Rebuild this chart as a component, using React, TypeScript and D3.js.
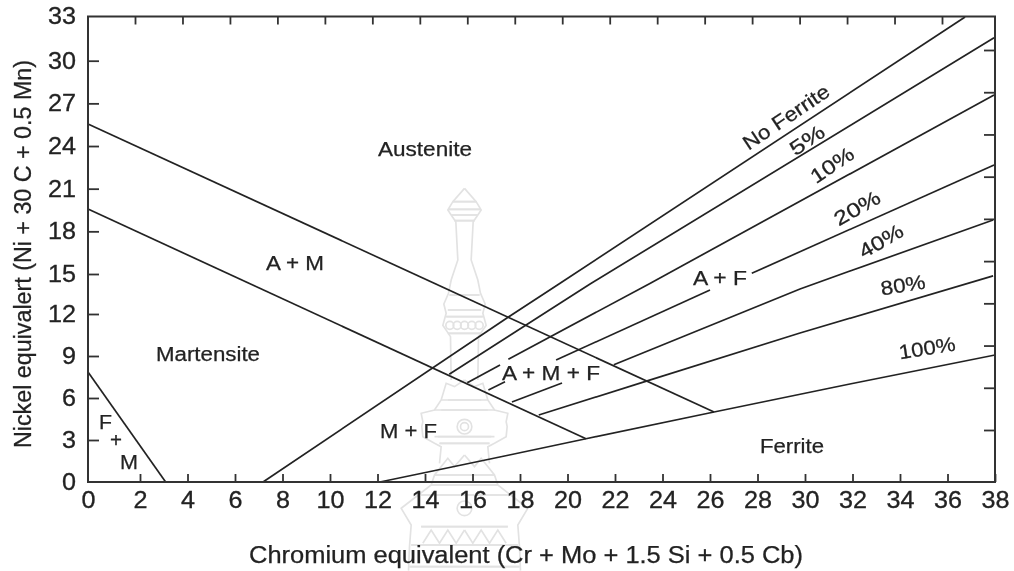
import { useEffect, useRef } from 'react';
import * as d3 from 'd3';

const width = 1014;
const height = 571;

// Schaeffler diagram, values as [Cr eq, Ni eq]
const xTicks = d3.range(0, 40, 2);
const yTicks = d3.range(0, 36, 3);
const frameTicksX = d3.range(2, 38, 2);
const frameTicksY = d3.range(3, 33, 3);

const austeniteEdge = [[0, 25.55], [26.17, 5.0]];
const martensiteEdge = [[0, 19.57], [20.78, 3.09]];
const fmEdge = [[0, 7.86], [3.08, 0]];
const noFerrite = [[7.18, 0], [17.45, 11.71], [19.64, 14.25], [36.74, 32.97]];
const ferrite5 = [[15.02, 7.69], [20.95, 14.25], [37.96, 31.56]];
const ferrite10a = [[15.78, 7.09], [17.16, 8.36]];
const ferrite10b = [[17.51, 8.76], [23.47, 14.29], [37.96, 27.59]];
const ferrite20a = [[16.67, 6.57], [17.37, 7.16]];
const ferrite20b = [[19.52, 8.71], [26, 13.8]];
const ferrite20c = [[27.76, 15.05], [37.96, 22.67]];
const ferrite40a = [[17.66, 5.71], [19.77, 7.07]];
const ferrite40b = [[21.95, 8.38], [29.79, 13.88], [37.92, 18.8]];
const ferrite80 = [[18.79, 4.79], [23.39, 7.24], [29.79, 10.64], [37.92, 14.86]];
const ferrite100 = [[12.1, 0], [13.92, 0.64], [17.45, 1.89], [20.78, 3.09], [26.17, 5.0], [31.89, 7.0], [38, 9.07]];

const allLines = [
  austeniteEdge, martensiteEdge, fmEdge, noFerrite, ferrite5, ferrite10a, ferrite10b,
  ferrite20a, ferrite20b, ferrite20c, ferrite40a, ferrite40b, ferrite80, ferrite100,
];

const regionNames = ['Austenite', 'A + M', 'Martensite', 'F', '+', 'M', 'M + F', 'A + M + F', 'A + F', 'Ferrite'];
const curveNames = ['No Ferrite', '5%', '10%', '20%', '40%', '80%', '100%'];

// [left, baseline, text width]
const regionPlaces = [
  [378, 156, 94], [266, 270, 58], [156, 361, 104], [99, 429, 13], [110, 447, 12],
  [120, 469, 18], [380, 438, 57], [502, 380, 98], [693, 285, 54], [760, 453, 64],
];
// [centre x, centre y, angle, text width]
const curvePlaces = [
  [786, 117, -34, 100], [807, 140, -34, 38], [832, 165, -34, 48], [857, 208, -30, 50],
  [881, 241, -30, 48], [903, 285, -9, 45], [927, 348, -9, 57],
];

// faint stamp behind the chart, right half only, mirrored when drawn
const stampPaths = [
  'M0 25L35 65L50 90L38 108L26 125L20 240L40 300L48 340L62 372L55 400L65 436L52 455L42 470L40 600',
  'M-35 65H35M-48 88H48M-40 105H40M-30 122H30',
  'M-45 345H45M-50 390H50M-55 410H55M-50 460H50',
  'M0 600L30 620L55 610L70 660L90 690L130 700L125 725L128 740L125 770L90 790L70 800L75 850',
  'M-50 660H70M-70 690H90M-80 770H90M-75 790H75',
  'M0 825L30 860L50 835L90 885L100 915L190 985L160 1035L165 1100L168 1172',
  'M-90 885H90M-100 915H100M-130 945H130M-130 1040H130M-160 1095H160M-165 1160H165',
  'M0 1050L25 1090L50 1050L75 1090L100 1050L125 1090',
];

export default function App() {
  const svgRef = useRef<SVGSVGElement>(null);

  useEffect(() => {
    const svg = d3.select(svgRef.current);
    svg.selectAll('*').remove();

    // the scan is slightly uneven, so the scales are pinned at a few ticks
    const x = d3.scaleLinear().domain([0, 2, 38]).range([88, 140, 995]);
    const y = d3.scaleLinear().domain([0, 12, 15, 30, 33]).range([482, 314, 274, 60.7, 16.5]);
    // ticks on the top and right sides sit offset from the labelled ones
    const xFrame = d3.scaleLinear().domain([2, 36]).range([135, 942]);
    const yFrame = d3.scaleLinear().domain([3, 30]).range([430, 50]);

    const defs = svg.append('defs');
    defs.append('filter').attr('id', 'soft').append('feGaussianBlur').attr('stdDeviation', 0.55);

    const stamp = svg.append('g')
      .attr('transform', 'translate(464.5,180) scale(0.3333)')
      .attr('fill', 'none')
      .attr('stroke', '#e2e2e2')
      .attr('stroke-width', 5);
    [1, -1].forEach((side) => {
      const half = stamp.append('g').attr('transform', `scale(${side},1)`);
      stampPaths.forEach((d) => half.append('path').attr('d', d));
    });
    [[0, 436, 12], [-22, 436, 12], [22, 436, 12], [-44, 436, 12], [44, 436, 12], [0, 740, 22], [0, 740, 12], [0, 985, 22]].forEach(([cx, cy, r]) => {
      stamp.append('circle').attr('cx', cx).attr('cy', cy).attr('r', r);
    });

    const chart = svg.append('g')
      .attr('filter', 'url(#soft)')
      .attr('font-family', '"Liberation Sans", Arial, sans-serif')
      .attr('fill', '#222');

    const line = d3.line().x((d) => x(d[0])).y((d) => y(d[1]));
    chart.selectAll('path.phase')
      .data(allLines)
      .enter()
      .append('path')
      .attr('class', 'phase')
      .attr('d', (d) => line(d))
      .attr('fill', 'none')
      .attr('stroke', '#222')
      .attr('stroke-width', 1.7);

    const styleAxis = (g) => {
      g.select('.domain').remove();
      g.selectAll('.tick line').attr('stroke', '#333').attr('stroke-width', 1.8);
    };
    const styleTickText = (g) => {
      g.selectAll('text')
        .attr('font-family', '"Liberation Sans", Arial, sans-serif')
        .attr('font-size', 23)
        .attr('fill', '#222')
        .attr('stroke', '#222')
        .attr('stroke-width', 0.3)
        .attr('textLength', (d) => (d < 10 ? 14 : 28))
        .attr('lengthAdjust', 'spacingAndGlyphs');
    };

    chart.append('g')
      .attr('transform', 'translate(0,482)')
      .call(d3.axisBottom(x).tickValues(xTicks).tickSizeInner(-8).tickPadding(9.5).tickFormat(d3.format('d')))
      .call(styleAxis)
      .call((g) => {
        g.selectAll('.tick').filter((d) => d === 0).select('line').remove();
      })
      .call(styleTickText);

    chart.append('g')
      .attr('transform', 'translate(88,0)')
      .call(d3.axisLeft(y).tickValues(yTicks).tickSizeInner(-11).tickPadding(12).tickFormat(d3.format('d')))
      .call(styleAxis)
      .call((g) => {
        g.selectAll('.tick').filter((d) => d === 0 || d === 33).select('line').remove();
      })
      .call(styleTickText);

    chart.append('g')
      .attr('transform', 'translate(0,16.5)')
      .call(d3.axisTop(xFrame).tickValues(frameTicksX).tickSizeInner(-8).tickFormat(() => ''))
      .call(styleAxis);

    chart.append('g')
      .attr('transform', 'translate(995,0)')
      .call(d3.axisRight(yFrame).tickValues(frameTicksY).tickSizeInner(-11).tickFormat(() => ''))
      .call(styleAxis);

    chart.append('rect')
      .attr('x', 88)
      .attr('y', 16.5)
      .attr('width', 907)
      .attr('height', 465.5)
      .attr('fill', 'none')
      .attr('stroke', '#333')
      .attr('stroke-width', 2);

    regionNames.forEach((name, i) => {
      const [left, base, w] = regionPlaces[i];
      chart.append('text')
        .attr('x', left)
        .attr('y', base)
        .attr('font-size', 20)
        .attr('stroke', '#222')
        .attr('stroke-width', 0.25)
        .attr('textLength', w)
        .attr('lengthAdjust', 'spacingAndGlyphs')
        .text(name);
    });

    curveNames.forEach((name, i) => {
      const [cx, cy, angle, w] = curvePlaces[i];
      chart.append('text')
        .attr('transform', `translate(${cx},${cy}) rotate(${angle})`)
        .attr('text-anchor', 'middle')
        .attr('dy', '0.35em')
        .attr('font-size', 20)
        .attr('stroke', '#222')
        .attr('stroke-width', 0.25)
        .attr('textLength', w)
        .attr('lengthAdjust', 'spacingAndGlyphs')
        .text(name);
    });

    chart.append('text')
      .attr('x', 249)
      .attr('y', 563)
      .attr('font-size', 23)
      .attr('stroke', '#222')
      .attr('stroke-width', 0.25)
      .attr('textLength', 554)
      .attr('lengthAdjust', 'spacingAndGlyphs')
      .text('Chromium equivalent (Cr + Mo + 1.5 Si + 0.5 Cb)');

    chart.append('text')
      .attr('transform', 'translate(31,448) rotate(-90)')
      .attr('font-size', 23)
      .attr('stroke', '#222')
      .attr('stroke-width', 0.25)
      .attr('textLength', 388)
      .attr('lengthAdjust', 'spacingAndGlyphs')
      .text('Nickel equivalert (Ni + 30 C + 0.5 Mn)');
  }, []);

  return (
    <svg
      ref={svgRef}
      width={width}
      height={height}
      style={{ position: 'absolute', left: 0, top: 0, background: '#fff' }}
    />
  );
}
